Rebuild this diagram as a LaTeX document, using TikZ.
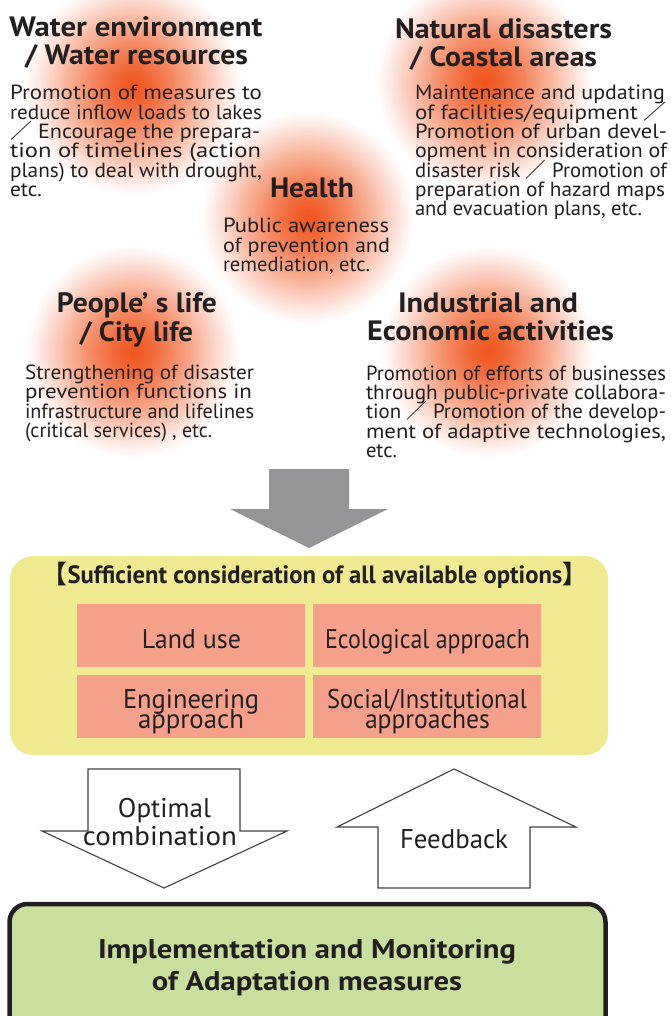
\documentclass[tikz,border=0pt]{standalone}
\usepackage{fontspec}
\usepackage{graphicx}
\setmainfont{PT Sans}
\newfontfamily\cjk{Noto Sans CJK JP}
\definecolor{txt}{HTML}{231F20}
\definecolor{grayarrow}{HTML}{939598}
\definecolor{yelbox}{HTML}{F0EB90}
\definecolor{pinkbox}{HTML}{F5A08A}
\definecolor{greenbox}{HTML}{C8DF9D}
\definecolor{outl}{HTML}{404040}
\definecolor{glowA}{HTML}{F0561F}
\newcommand\fitw[2]{\resizebox{#1pt}{\height}{#2}}
\newcommand\fwsl{{\cjk ／}}
\newcommand\glowat[3]{%
  \foreach \k in {60,59,...,1}{%
    \pgfmathsetmacro\dd{\k/60}%
    \pgfmathsetmacro\pp{100*(1-\dd^1.4)^1.2}%
    \pgfmathsetmacro\rr{#3*\dd}%
    \fill[glowA!\pp!white] (#1,#2) circle [radius=\rr pt];
  }}
\tikzset{
  tt/.style={inner sep=0pt, outer sep=0pt, text=txt},
  ttl/.style={tt, anchor=base, font=\fontsize{28}{30}\selectfont\bfseries},
  body/.style={tt, anchor=base west, font=\fontsize{20.5}{20}\selectfont},
  boxt/.style={tt, anchor=base, font=\fontsize{27}{27}\selectfont},
  pink/.style={fill=pinkbox, draw=none, inner sep=0pt, minimum width=228pt, minimum height=63pt},
  blockarrow/.style={draw=outl, fill=white, line width=1.1pt, line join=miter}
}
\begin{document}
\begin{tikzpicture}[x=1pt,y=-1pt]
\useasboundingbox (0,0) rectangle (670,1016);
\fill[white] (0,0) rectangle (670,1016);
% glows
\glowat{133}{87}{110}
\glowat{485}{82}{110}
\glowat{133}{352}{108}
\glowat{488}{352}{108}
\glowat{308}{218}{108}
% Water
\node[ttl] (wt1) at (136,37) {\fitw{253}{Water environment}};
\node[ttl] (wt2) at (136.5,65) {\fitw{223}{/ Water resources}};
\node[body] (wb1) at (10,100) {\fitw{252}{Promotion of measures to}};
\node[body] (wb2) at (10,119.3) {\fitw{252}{reduce inflow loads to lakes}};
\node[body] (wb3) at (10,138.6) {\fitw{250}{\fwsl{} Encourage the prepara-}};
\node[body] (wb4) at (10,157.9) {\fitw{251}{tion of timelines (action}};
\node[body] (wb5) at (10,177.2) {\fitw{252}{plans) to deal with drought,}};
\node[body] (wb6) at (10,196.5) {\fitw{32}{etc.}};
% Natural disasters
\node[ttl] (nt1) at (503.5,39) {\fitw{217}{Natural disasters}};
\node[ttl] (nt2) at (503.5,67) {\fitw{187}{/ Coastal areas}};
\node[body] (nb1) at (415,100) {\fitw{250}{Maintenance and updating}};
\node[body] (nb2) at (415,119.3) {\fitw{252}{of facilities/equipment \fwsl}};
\node[body] (nb3) at (415,138.6) {\fitw{252}{Promotion of urban devel-}};
\node[body] (nb4) at (415,157.9) {\fitw{252}{opment in consideration of}};
\node[body] (nb5) at (415,177.2) {\fitw{252}{disaster risk \fwsl{} Promotion of}};
\node[body] (nb6) at (415,196.5) {\fitw{250}{preparation of hazard maps}};
\node[body] (nb7) at (415,216) {\fitw{227}{and evacuation plans, etc.}};
% Health
\node[ttl] (ht1) at (312,198) {\fitw{84}{Health}};
\node[body] (hb1) at (223,233) {\fitw{166}{Public awareness}};
\node[body] (hb2) at (223,252) {\fitw{167}{of prevention and}};
\node[body] (hb3) at (223,271) {\fitw{147}{remediation, etc.}};
% People's life
\node[ttl] (pt1) at (137,312) {\fitw{160}{People’ s life}};
\node[ttl] (pt2) at (136.5,341) {\fitw{113}{/ City life}};
\node[body] (pb1) at (25,379) {\fitw{229}{Strengthening of disaster}};
\node[body] (pb2) at (25,398.5) {\fitw{227}{prevention functions in}};
\node[body] (pb3) at (25,418) {\fitw{229}{infrastructure and lifelines}};
\node[body] (pb4) at (25,437.5) {\fitw{187}{(critical services) , etc.}};
% Industrial
\node[ttl] (it1) at (488,312) {\fitw{180}{Industrial and}};
\node[ttl] (it2) at (490.5,340) {\fitw{247}{Economic activities}};
\node[body] (ib1) at (366,380) {\fitw{300}{Promotion of efforts of businesses}};
\node[body] (ib2) at (366,399.3) {\fitw{300}{through public-private collabora-}};
\node[body] (ib3) at (366,418.6) {\fitw{300}{tion \fwsl{} Promotion of the develop-}};
\node[body] (ib4) at (366,438) {\fitw{300}{ment of adaptive technologies,}};
\node[body] (ib5) at (366,457.5) {\fitw{31}{etc.}};
% gray arrow
\fill[grayarrow] (269,469) -- (349,469) -- (349,509) -- (388,509) -- (309,548) -- (230,509) -- (269,509) -- cycle;
% yellow box
\node[fill=yelbox, draw=none, rounded corners=23pt, minimum width=598pt, minimum height=199pt, inner sep=0pt] (opts) at (309,655.5) {};
\node[tt, anchor=base, font=\fontsize{25}{25}\selectfont\bfseries] (optt) at (315,583) {\fitw{544}{{\cjk 【}Sufficient consideration of all available options{\cjk 】}}};
\node[pink] (lu) at (191,635) {};
\node[pink] (eco) at (427,635) {};
\node[pink] (eng) at (191,706.5) {};
\node[pink] (soc) at (427,706.5) {};
\node[boxt] (lut) at (191.5,648) {\fitw{99}{Land use}};
\node[boxt] (ecot) at (427.5,648) {\fitw{205}{Ecological approach}};
\node[boxt] (engt1) at (191,708) {\fitw{136}{Engineering}};
\node[boxt] (engt2) at (191,728) {\fitw{106}{approach}};
\node[boxt] (soct1) at (427,708) {\fitw{200}{Social/Institutional}};
\node[boxt] (soct2) at (427.5,728) {\fitw{125}{approaches}};
% block arrows
\draw[blockarrow] (88,769) -- (240,769) -- (240,831) -- (287,831) -- (164,888) -- (42,831) -- (88,831) -- cycle;
\draw[blockarrow] (454,769) -- (576,827) -- (530,827) -- (530,888) -- (378,888) -- (378,827) -- (337,827) -- cycle;
\node[boxt] (opt1) at (164.5,817) {\fitw{93}{Optimal}};
\node[boxt] (opt2) at (160,845) {\fitw{154}{combination}};
\node[boxt] (fb) at (454,848) {\fitw{108}{Feedback}};
% green box
\draw[draw=txt, fill=greenbox, line width=4.5pt, rounded corners=18pt] (9.5,904) rectangle (605.5,1040);
\node[tt, anchor=base, font=\fontsize{27}{27}\selectfont\bfseries] (im1) at (307,958) {\fitw{418}{Implementation and Monitoring}};
\node[tt, anchor=base, font=\fontsize{27}{27}\selectfont\bfseries] (im2) at (307,990) {\fitw{310}{of Adaptation measures}};
\end{tikzpicture}
\end{document}
